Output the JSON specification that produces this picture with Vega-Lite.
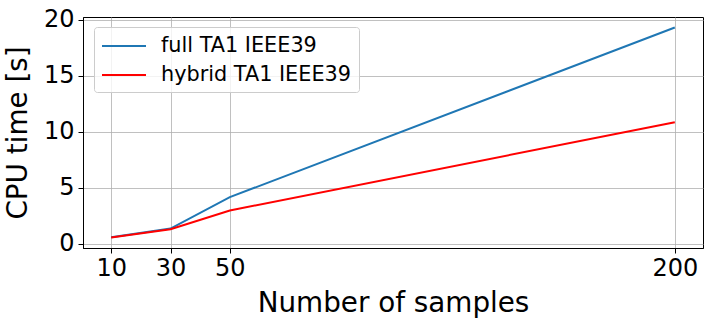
{
  "$schema": "https://vega.github.io/schema/vega-lite/v6.json",
  "width": 620,
  "height": 231,
  "autosize": {"type": "none"},
  "padding": {"left": 83, "top": 17, "right": 10, "bottom": 77},
  "background": "white",
  "config": {
    "font": "DejaVu Sans",
    "view": {"stroke": "black", "strokeWidth": 1},
    "axis": {
      "domainColor": "black",
      "domainWidth": 1,
      "tickColor": "black",
      "tickSize": 5,
      "tickWidth": 1,
      "labelFont": "DejaVu Sans",
      "labelFontSize": 24,
      "labelColor": "black",
      "titleFont": "DejaVu Sans",
      "titleFontSize": 27.8,
      "titleFontWeight": "normal",
      "titleColor": "black",
      "grid": true,
      "gridColor": "#b0b0b0",
      "gridWidth": 0.8
    }
  },
  "data": {
    "values": [
      {"samples": 10, "cpu": 0.55, "series": "full TA1 IEEE39"},
      {"samples": 30, "cpu": 1.34, "series": "full TA1 IEEE39"},
      {"samples": 50, "cpu": 4.14, "series": "full TA1 IEEE39"},
      {"samples": 200, "cpu": 19.29, "series": "full TA1 IEEE39"},
      {"samples": 10, "cpu": 0.54, "series": "hybrid TA1 IEEE39"},
      {"samples": 30, "cpu": 1.27, "series": "hybrid TA1 IEEE39"},
      {"samples": 50, "cpu": 2.95, "series": "hybrid TA1 IEEE39"},
      {"samples": 200, "cpu": 10.83, "series": "hybrid TA1 IEEE39"}
    ]
  },
  "mark": {"type": "line", "strokeWidth": 2, "clip": true},
  "encoding": {
    "x": {
      "field": "samples",
      "type": "quantitative",
      "scale": {"domain": [0.5, 209.5], "nice": false, "zero": false},
      "axis": {
        "values": [10, 30, 50, 200],
        "title": "Number of samples",
        "labelPadding": 3,
        "titlePadding": 9
      }
    },
    "y": {
      "field": "cpu",
      "type": "quantitative",
      "scale": {"domain": [-0.4, 20.23], "nice": false, "zero": false},
      "axis": {
        "values": [0, 5, 10, 15, 20],
        "title": "CPU time [s]",
        "labelPadding": 4,
        "titlePadding": 11
      }
    },
    "color": {
      "field": "series",
      "type": "nominal",
      "scale": {
        "domain": ["full TA1 IEEE39", "hybrid TA1 IEEE39"],
        "range": ["#1f77b4", "#ff0000"]
      },
      "legend": {
        "title": null,
        "orient": "none",
        "legendX": 11,
        "legendY": 10,
        "symbolType": "M-1,0H3",
        "symbolSize": 484,
        "symbolStrokeWidth": 2,
        "labelFont": "DejaVu Sans",
        "labelFontSize": 20.8,
        "labelColor": "black",
        "labelLimit": 0,
        "labelOffset": 36,
        "rowPadding": 7,
        "padding": 7,
        "strokeColor": "#cccccc",
        "fillColor": "rgba(255,255,255,0.8)",
        "cornerRadius": 3
      }
    }
  }
}
